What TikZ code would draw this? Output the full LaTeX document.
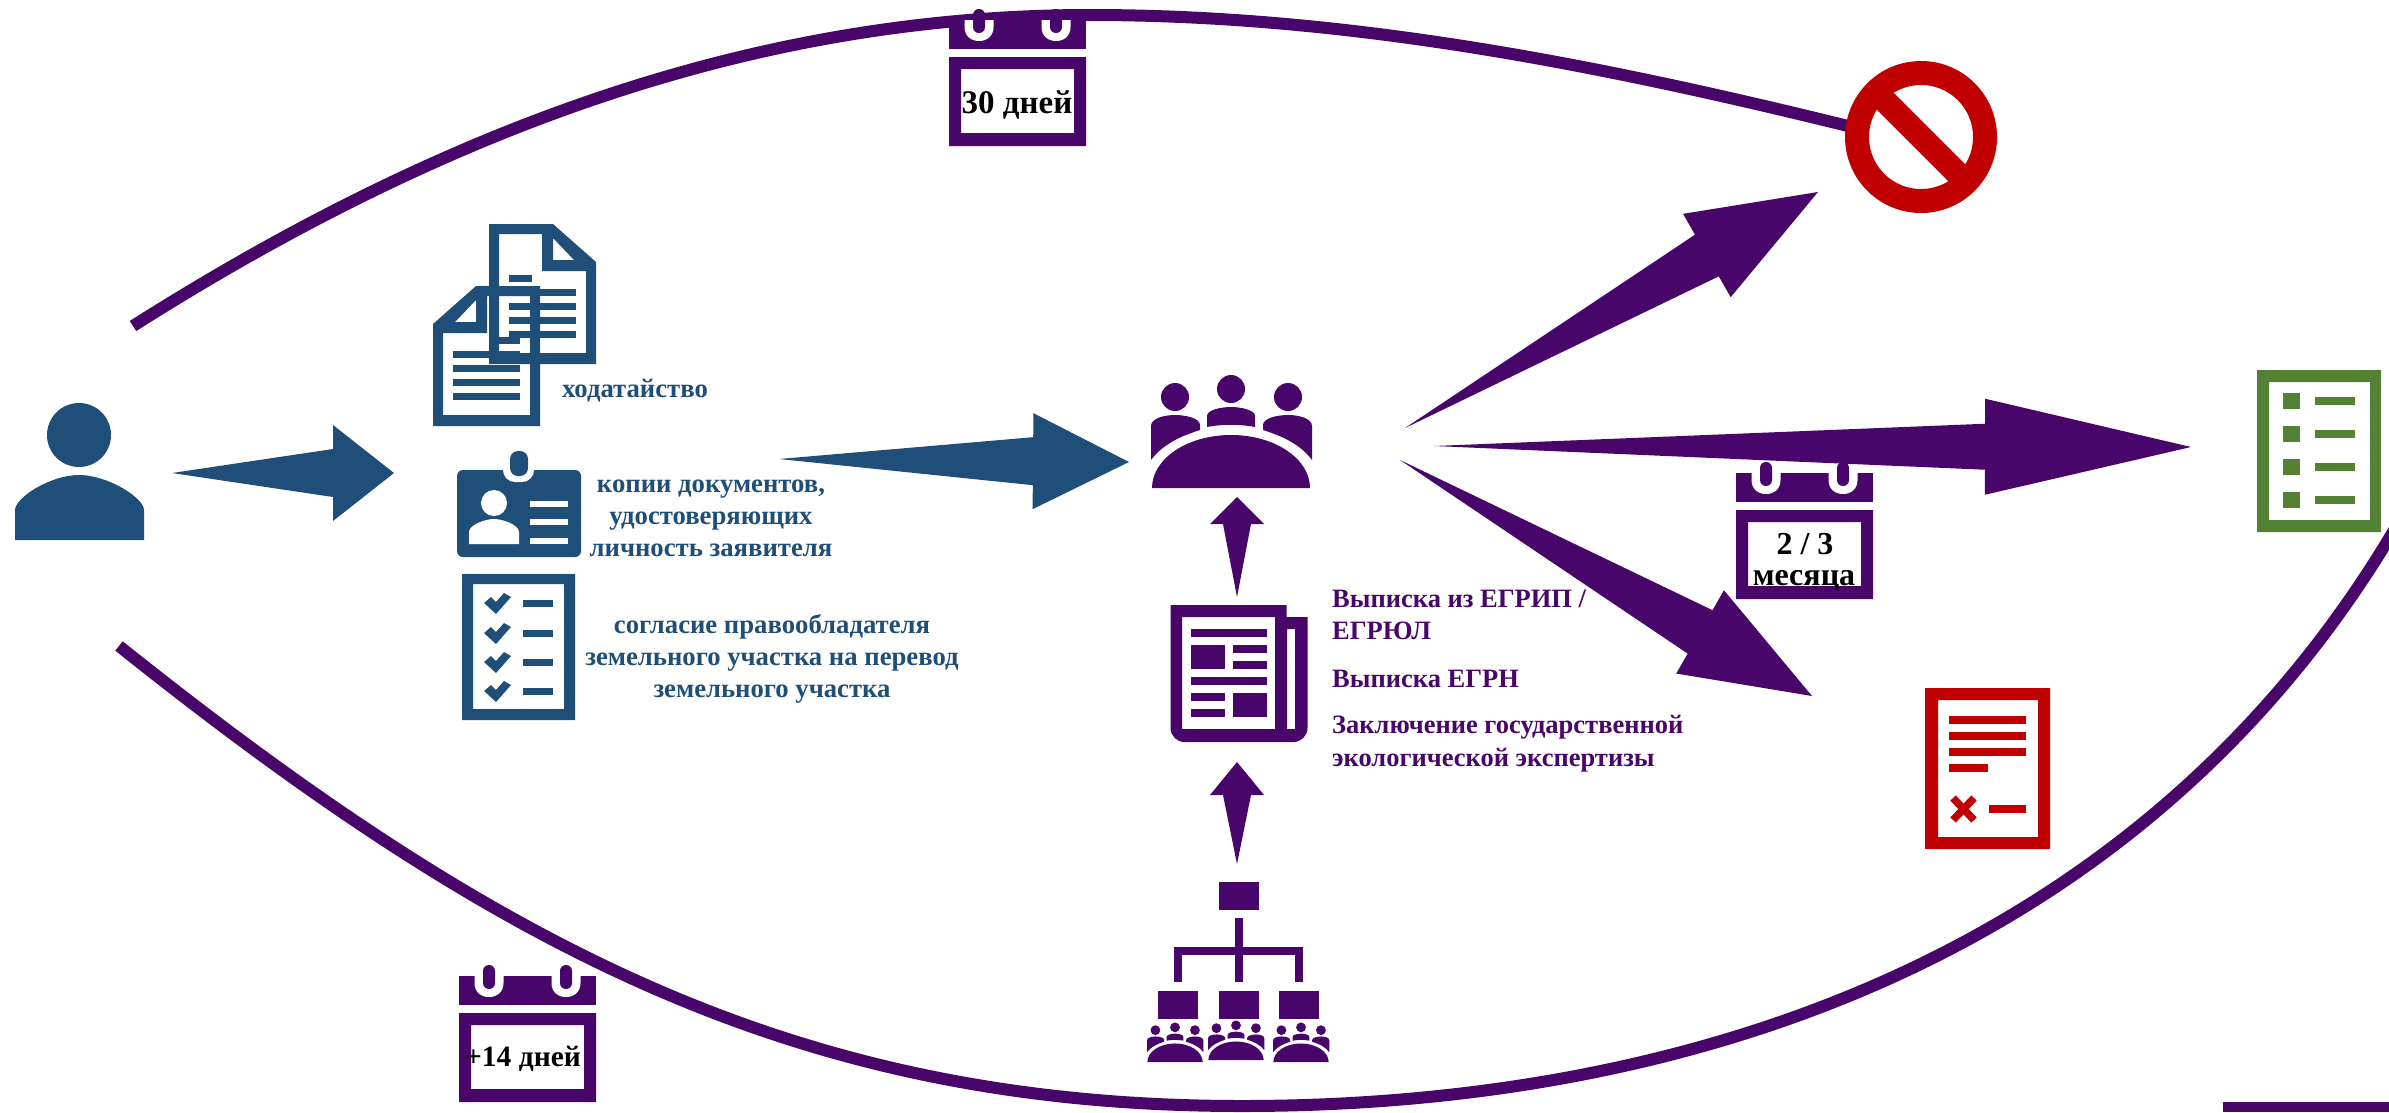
\documentclass[tikz,border=0pt]{standalone}
\usepackage{fontspec}
\setmainfont{Liberation Serif}
\usetikzlibrary{calc}
\definecolor{pp}{HTML}{48066A}
\definecolor{bl}{HTML}{1F4E79}
\definecolor{gr}{HTML}{548235}
\definecolor{rd}{HTML}{C00000}
\tikzset{
  curveline/.style={draw=pp,line width=12pt},
  bluetext/.style={text=bl,font=\fontsize{26.7}{32}\selectfont\bfseries,align=center,inner sep=0pt},
  purpletext/.style={text=pp,font=\fontsize{26.5}{32}\selectfont\bfseries,align=left,inner sep=0pt,anchor=west},
  caltext/.style={text=black,font=\fontsize{32}{32}\selectfont\bfseries,align=center,inner sep=0pt}
}
% colour, from, to, shaft half width, head half width, head length
\newcommand{\blockarr}[6]{%
  \coordinate (H) at ($(#3)!#6!(#2)$);
  \fill[#1] (#2) -- ($(H)!#4!90:(#2)$) -- ($(H)!#5!90:(#2)$) -- (#3)
    -- ($(H)!#5!-90:(#2)$) -- ($(H)!#4!-90:(#2)$) -- cycle;}
\newcommand{\calicon}[2]{%
  \begin{scope}[shift={(#1,#2)}]
    \fill[pp] (0,0) rectangle (137,29);
    \foreach \cx in {30,107}{
      \begin{scope}[shift={(\cx,0)}]
      \fill[white] (-14.5,0) -- (-14.5,7) .. controls (-14.5,16) and (-8,21) .. (0,21)
        .. controls (8,21) and (14.5,16) .. (14.5,7) -- (14.5,0) -- cycle;
      \fill[pp,rounded corners=5.9pt] (-6,-11) rectangle (6,13);
      \end{scope}
    }
    \fill[pp,even odd rule] (0,37) rectangle (137,126) (12,49) rectangle (125,113);
  \end{scope}}
\newcommand{\meetingicon}{%
  \fill[pp] (-79,0) .. controls (-79,-29) and (-44,-53) .. (0,-53)
     .. controls (44,-53) and (79,-29) .. (79,0) -- cycle;
  \fill[pp] (0,-99) circle[radius=14];
  \fill[pp] (-56,-91) circle[radius=14];
  \fill[pp] (57,-91) circle[radius=14];
  \fill[pp] (-24,-61) -- (-24,-72) .. controls (-24,-78) and (-10,-81) .. (0,-81)
     .. controls (10,-81) and (24,-78) .. (24,-72) -- (24,-61)
     .. controls (8,-64) and (-8,-64) .. (-24,-61) -- cycle;
  \fill[pp] (-80,-28) -- (-80,-62) .. controls (-80,-70) and (-66,-73) .. (-56,-73)
     .. controls (-46,-73) and (-31,-70) .. (-31,-63) -- (-31,-58)
     .. controls (-50,-52) and (-68,-44) .. (-80,-28) -- cycle;
  \fill[pp] (81,-28) -- (81,-62) .. controls (81,-70) and (67,-73) .. (57,-73)
     .. controls (47,-73) and (32,-70) .. (32,-63) -- (32,-58)
     .. controls (51,-52) and (69,-44) .. (81,-28) -- cycle;}
\newcommand{\docicon}{%
  \fill[bl,even odd rule] (489,224) -- (553,224) -- (596,262) -- (596,364) -- (489,364) -- cycle
     (499,234) -- (542,234) -- (542,271) -- (586,271) -- (586,353) -- (499,353) -- cycle
     (553,238) -- (553,260) -- (574,260) -- cycle;
  \fill[bl] (509,275) rectangle (532,281.5);
  \fill[bl] (509,289) rectangle (576,295.5);
  \fill[bl] (509,303) rectangle (576,309.5);
  \fill[bl] (509,317) rectangle (576,323.5);
  \fill[bl] (509,331) rectangle (576,337.5);}
\begin{document}
\begin{tikzpicture}[x=1pt,y=-1pt]
\useasboundingbox (0,0) rectangle (2389,1112);
\clip (0,0) rectangle (2389,1112);
\fill[white] (0,0) rectangle (2389,1112);
% long curves
\coordinate (topstart) at (133,326);
\coordinate (topmid) at (1090,15);
\coordinate (topend) at (1848,126);
\draw[curveline] (topstart) .. controls (450,125) and (760,15) .. (topmid)
   .. controls (1350,15) and (1600,65) .. (topend);
\coordinate (botstart) at (119,646);
\coordinate (botmid) at (1242,1106);
\coordinate (botend) at (2400,520);
\draw[curveline] (botstart) .. controls (500,950) and (800,1106) .. (botmid)
   .. controls (1700,1106) and (2150,950) .. (botend);
\fill[pp] (2223,1102) rectangle (2389,1112);
% arrows
\coordinate (a1s) at (172,473); \coordinate (a1e) at (394,473);
\blockarr{bl}{a1s}{a1e}{24pt}{48pt}{61pt}
\coordinate (a2s) at (779,459); \coordinate (a2e) at (1129,462);
\blockarr{bl}{a2s}{a2e}{24pt}{48pt}{96pt}
\coordinate (a3s) at (1237,597); \coordinate (a3e) at (1237,497);
\blockarr{pp}{a3s}{a3e}{14pt}{27pt}{27pt}
\coordinate (a4s) at (1237,864); \coordinate (a4e) at (1237,762);
\blockarr{pp}{a4s}{a4e}{14pt}{27pt}{33pt}
\coordinate (a5s) at (1405,428); \coordinate (a5e) at (1818,192);
\blockarr{pp}{a5s}{a5e}{24pt}{48pt}{128pt}
\coordinate (a6s) at (1434,446); \coordinate (a6e) at (2191,447);
\blockarr{pp}{a6s}{a6e}{23pt}{48pt}{206pt}
\coordinate (a7s) at (1400,460); \coordinate (a7e) at (1812,696);
\blockarr{pp}{a7s}{a7e}{25pt}{48pt}{129pt}
% applicant
\fill[bl] (79,435) circle[radius=32];
\fill[bl] (15,540) -- (15,510) .. controls (15,498) and (50,475) .. (79,475)
   .. controls (108,475) and (144,498) .. (144,510) -- (144,540) -- cycle;
% documents
\docicon
\begin{scope}[shift={(1029,62)},xscale=-1]\docicon\end{scope}
\node[bluetext] (t1) at (635,391) {ходатайство};
% id card
\fill[bl,rounded corners=6pt] (457,470) rectangle (581,557);
\fill[white,rounded corners=12pt] (503,440) rectangle (534,482);
\fill[bl,rounded corners=8pt] (510,451) rectangle (528,476);
\fill[white] (494,503) circle[radius=13];
\fill[white] (469,544) -- (469,532) .. controls (469,525) and (485,519) .. (494,519)
   .. controls (503,519) and (519,525) .. (519,532) -- (519,544) -- cycle;
\fill[white] (530,501) rectangle (568,507);
\fill[white] (530,519) rectangle (568,525);
\fill[white] (530,538) rectangle (568,544);
\node[bluetext] (t2) at (711,518) {копии документов,\\удостоверяющих\\личность заявителя};
% consent checklist
\fill[bl,even odd rule] (462,574) rectangle (575,720) (473,584) rectangle (564,709);
\foreach \ry in {603,633,662,691}{
  \fill[bl] (484,\ry) ++(0,0) -- ++(12,11) -- ++(15,-17) -- ++(-7,-4) -- ++(-8,9) -- ++(-5,-5) -- cycle;
  \fill[bl] (522.5,\ry-3.5) rectangle (553,\ry+4);
}
\node[bluetext] (t3) at (772,659) {согласие правообладателя\\земельного участка на перевод\\земельного участка};
% meeting
\begin{scope}[shift={(1231,488)}]\meetingicon\end{scope}
% newspaper
\fill[pp,even odd rule] (1170.5,605) -- (1286.5,605) -- (1286.5,617) -- (1307.5,617)
    [rounded corners=14pt] -- (1307.5,742) -- (1170.5,742) [sharp corners] -- (1170.5,605) -- cycle
    (1182,617) rectangle (1275,729)
    (1287,629) rectangle (1295,729);
\fill[pp] (1190.5,629) rectangle (1266.5,637);
\fill[pp] (1190.5,645) rectangle (1224.5,669);
\fill[pp] (1232.5,645) rectangle (1266.5,653);
\fill[pp] (1232.5,661) rectangle (1266.5,669);
\fill[pp] (1190.5,677) rectangle (1266.5,685);
\fill[pp] (1190.5,693) rectangle (1224.5,701);
\fill[pp] (1190.5,709) rectangle (1224.5,717);
\fill[pp] (1232.5,693) rectangle (1266.5,717);
\node[purpletext] (t4) at (1332,599) {Выписка из ЕГРИП /};
\node[purpletext] (t5) at (1332,631) {ЕГРЮЛ};
\node[purpletext] (t6) at (1332,679) {Выписка ЕГРН};
\node[purpletext] (t7) at (1332,727) {Заключение государственной};
\node[purpletext] (t8) at (1332,760) {экологической экспертизы};
% org chart
\fill[pp] (1219,882) rectangle (1259,910);
\fill[pp] (1235,918) rectangle (1243,982);
\fill[pp] (1174,947) rectangle (1303,955);
\fill[pp] (1174,947) rectangle (1182,982);
\fill[pp] (1295,947) rectangle (1303,982);
\fill[pp] (1158,991) rectangle (1198,1019);
\fill[pp] (1219,991) rectangle (1259,1019);
\fill[pp] (1279,991) rectangle (1319,1019);
\begin{scope}[shift={(1175,1062)},scale=0.35]\meetingicon\end{scope}
\begin{scope}[shift={(1236,1060)},scale=0.35]\meetingicon\end{scope}
\begin{scope}[shift={(1301,1062)},scale=0.35]\meetingicon\end{scope}
% calendars
\calicon{949}{20}
\node[caltext,font=\fontsize{33}{32}\selectfont\bfseries] (c1) at (1017,105) {30 дней};
\calicon{459}{976}
\node[caltext,font=\fontsize{29.5}{32}\selectfont\bfseries] (c2) at (523,1059) {+14 дней};
\calicon{1736}{473}
\node[caltext] (c3) at (1805,544) {2 / 3};
\node[caltext] (c4) at (1804,581) {месяца};
% forbidden
\coordinate (fc) at (1921,137);
\draw[rd,line width=24pt] (fc) circle[radius=64];
\draw[rd,line width=24pt] ($(fc)+(-47,-47)$) -- ($(fc)+(47,47)$);
% green list
\fill[gr,even odd rule] (2257,370) rectangle (2381,532) (2269,382) rectangle (2370,520);
\foreach \ry in {401,434,467,500}{
  \fill[gr] (2283,\ry-8) rectangle (2300,\ry+8);
  \fill[gr] (2315,\ry-4) rectangle (2355,\ry+4);
}
% red doc
\fill[rd,even odd rule] (1925,688) rectangle (2050,849) (1938,700) rectangle (2038,837);
\fill[rd] (1949,716) rectangle (2026,724);
\fill[rd] (1949,732) rectangle (2026,740);
\fill[rd] (1949,748) rectangle (2026,756);
\fill[rd] (1949,764) rectangle (1988,772);
\fill[rd] (1989,805) rectangle (2026,813);
\draw[rd,line width=7.5pt] (1953,798) -- (1974,820);
\draw[rd,line width=7.5pt] (1974,798) -- (1953,820);
\end{tikzpicture}
\end{document}
